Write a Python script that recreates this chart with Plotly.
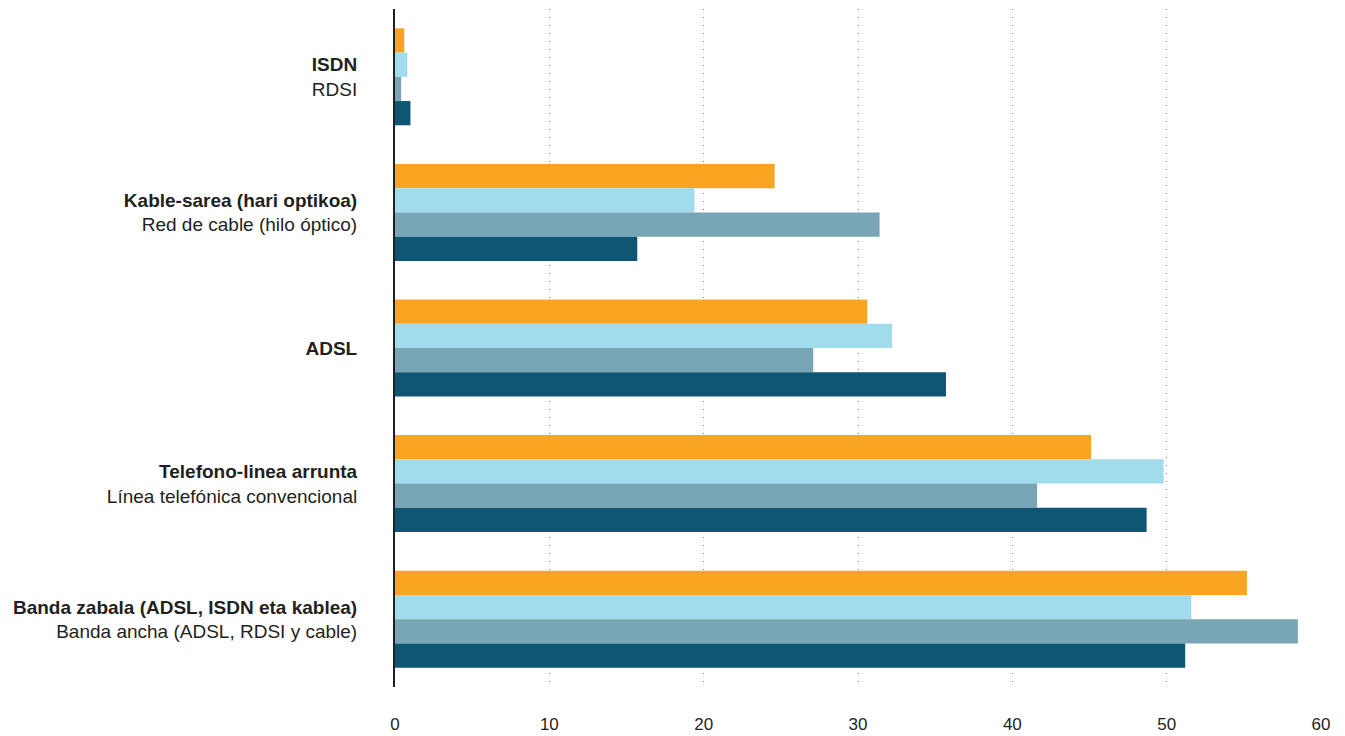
import plotly.graph_objects as go

categories = [
    "<b>ISDN</b><br>RDSI",
    "<b>Kable-sarea (hari optikoa)</b><br>Red de cable (hilo óptico)",
    "<b>ADSL</b>",
    "<b>Telefono-linea arrunta</b><br>Línea telefónica convencional",
    "<b>Banda zabala (ADSL, ISDN eta kablea)</b><br>Banda ancha (ADSL, RDSI y cable)",
]

series_names = ["Serie 1", "Serie 2", "Serie 3", "Serie 4"]
series_1 = [0.6, 24.6, 30.6, 45.1, 55.2]
series_2 = [0.8, 19.4, 32.2, 49.8, 51.6]
series_3 = [0.4, 31.4, 27.1, 41.6, 58.5]
series_4 = [1.0, 15.7, 35.7, 48.7, 51.2]
series_values = [series_1, series_2, series_3, series_4]
colors = ["#F9A521", "#A1DCED", "#78A6B7", "#0F5674"]

x_ticks = [0, 10, 20, 30, 40, 50, 60]

FONT = "Liberation Sans Narrow, Arial Narrow, Liberation Sans, Arial, sans-serif"

fig = go.Figure()
for name, vals, col in zip(series_names, series_values, colors):
    fig.add_trace(go.Bar(
        y=categories, x=vals, name=name, orientation="h",
        marker=dict(color=col, line=dict(width=0)),
    ))

fig.update_layout(
    width=1345, height=736,
    margin=dict(l=387, r=32, t=1, b=57),
    paper_bgcolor="white", plot_bgcolor="white",
    barmode="group", bargap=0.285, bargroupgap=0,
    showlegend=False,
    font=dict(family=FONT, color="#231F20"),
    xaxis=dict(
        range=[0, 60], tickvals=x_ticks, ticktext=[str(v) for v in x_ticks],
        showgrid=True, gridcolor="#7a7a7a", gridwidth=1, griddash="1px,7px",
        zeroline=False, showline=False, ticks="",
        tickfont=dict(size=17, family=FONT, color="#231F20"),
        ticklabelstandoff=25,
        fixedrange=True,
    ),
    yaxis=dict(
        autorange="reversed", type="category",
        showline=True, linecolor="#231F20", linewidth=2,
        showgrid=False, ticks="", ticklabelstandoff=32,
        tickfont=dict(size=19, family=FONT, color="#231F20"),
    ),
)

fig.write_html("out.html")
